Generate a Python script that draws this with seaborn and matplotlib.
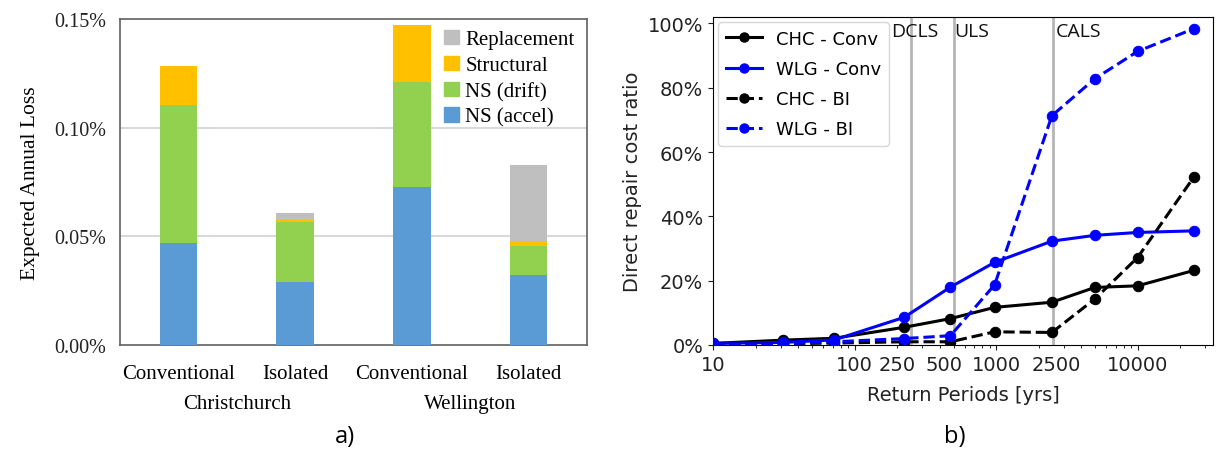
import matplotlib
matplotlib.use("Agg")
import matplotlib.pyplot as plt
import matplotlib.transforms as mtransforms
from matplotlib.ticker import FuncFormatter, FixedLocator, LogLocator, NullFormatter
from matplotlib.lines import Line2D
import numpy as np
import pandas as pd
import seaborn as sns

# ---------------- data: panel a ----------------
bar_keys = ["CHC-Conv", "CHC-Iso", "WLG-Conv", "WLG-Iso"]
bar_labels = ["Conventional", "Isolated", "Conventional", "Isolated"]
cities = ["Christchurch", "Wellington"]
ns_accel = [0.0468, 0.0288, 0.0729, 0.0323]
ns_drift = [0.0634, 0.0279, 0.0483, 0.0131]
structural = [0.0180, 0.0009, 0.0259, 0.0025]
replacement = [0.0, 0.0031, 0.0, 0.0350]
comp_names = ["NS (accel)", "NS (drift)", "Structural", "Replacement"]
comp_colors = ["#5B9BD5", "#92D050", "#FFC000", "#BFBFBF"]
ytick_a = [0.0, 0.05, 0.10, 0.15]

# ---------------- data: panel b ----------------
return_periods = [10, 31, 72, 224, 475, 975, 2475, 4975, 9975, 24975]
chc_conv = [0.5, 1.5, 2.1, 5.5, 8.2, 11.7, 13.3, 17.9, 18.4, 23.2]
wlg_conv = [0.5, 0.8, 1.6, 8.6, 18.0, 25.7, 32.3, 34.1, 35.0, 35.5]
chc_bi = [0.3, 0.4, 0.6, 1.0, 1.0, 4.1, 3.9, 14.3, 27.2, 52.3]
wlg_bi = [0.3, 0.4, 1.0, 2.0, 2.9, 18.7, 71.3, 82.8, 91.3, 98.4]
series_names = ["CHC - Conv", "WLG - Conv", "CHC - BI", "WLG - BI"]
limit_states = ["DCLS", "ULS", "CALS"]
limit_periods = [250, 500, 2500]
major_xticks = [10, 100, 1000, 10000]
extra_xlabels = ["250", "500", "2500"]
extra_xlabel_pos = [200, 430, 2650]
ytick_b = [0, 20, 40, 60, 80, 100]

W, H = 1216, 452
fig = plt.figure(figsize=(W / 100, H / 100), dpi=100)

# ================= panel a =================
serif = ["Liberation Serif", "DejaVu Serif"]
axa = fig.add_axes([120 / W, 1 - 346 / H, 467 / W, 326 / H])
comps = [ns_accel, ns_drift, structural, replacement]
cum = np.cumsum(np.array(comps), axis=0)
for i in range(3, -1, -1):
    df = pd.DataFrame({"key": bar_keys, "val": cum[i]})
    sns.barplot(data=df, x="key", y="val", order=bar_keys, color=comp_colors[i],
                width=0.32, linewidth=0, saturation=1, ax=axa, zorder=3)
axa.set_xlim(-0.5, 3.5)
axa.set_ylim(0, 0.15)
axa.set_yticks(ytick_a)
axa.yaxis.set_major_formatter(FuncFormatter(lambda v, p: f"{v:.2f}%"))
axa.set_xticks(range(4))
axa.set_xticklabels(bar_labels, fontfamily=serif, fontsize=15)
for lab in axa.get_yticklabels():
    lab.set_fontfamily(serif)
    lab.set_fontsize(14.5)
    lab.set_color("#222222")
axa.tick_params(axis="both", length=0)
axa.tick_params(axis="x", pad=14)
axa.tick_params(axis="y", pad=10)
axa.set_xlabel("")
axa.set_ylabel("Expected Annual Loss", fontfamily=serif, fontsize=15.5, labelpad=10)
for y in [0.05, 0.10]:
    axa.axhline(y, color="#D9D9D9", lw=1.5, zorder=1)
for s in axa.spines.values():
    s.set_color("#606060")
    s.set_linewidth(1.2)
trans = mtransforms.blended_transform_factory(axa.transData, axa.transAxes)
for j, c in enumerate(cities):
    axa.text(2 * j + 0.5, -0.18, c, transform=trans, ha="center", va="center",
             fontfamily=serif, fontsize=15)
handles = [plt.Rectangle((0, 0), 1, 1, color=comp_colors[i]) for i in range(3, -1, -1)]
axa.legend(handles, comp_names[::-1], loc="upper right", frameon=False,
           prop={"family": serif, "size": 15}, handlelength=0.7, handleheight=0.7,
           handletextpad=0.3, labelspacing=0.3, borderaxespad=0.2,
           bbox_to_anchor=(1.0, 1.005))

# ================= panel b =================
axb = fig.add_axes([713 / W, 1 - 346 / H, 500 / W, 328 / H])
lines = [chc_conv, wlg_conv, chc_bi, wlg_bi]
cols = ["black", "blue", "black", "blue"]
styles = ["-", "-", "--", "--"]
for name, vals, c, ls in zip(series_names, lines, cols, styles):
    sns.lineplot(x=return_periods, y=vals, ax=axb, color=c, linestyle=ls, lw=2.2,
                 marker="o", markersize=7.5, markeredgecolor=c, label=name, zorder=3)
axb.set_xscale("log")
axb.set_xlim(10, 34000)
axb.set_ylim(0, 102)
for lp in limit_periods:
    axb.axvline(lp, color="#b5b5b5", lw=2, zorder=1)
txt_x = [182, 505, 2650]
for name, tx in zip(limit_states, txt_x):
    axb.text(tx, 97.5, name, ha="left", va="center", fontsize=14, fontfamily="Open Sans",
             color="#111111")
axb.xaxis.set_major_locator(FixedLocator(major_xticks))
axb.set_xticklabels([str(v) for v in major_xticks])
axb.xaxis.set_minor_locator(LogLocator(base=10, subs=np.arange(2, 10)))
axb.xaxis.set_minor_formatter(NullFormatter())
axb.set_yticks(ytick_b)
axb.yaxis.set_major_formatter(FuncFormatter(lambda v, p: f"{v:.0f}%"))
axb.tick_params(axis="both", labelsize=14, colors="#222222")
transb = mtransforms.blended_transform_factory(axb.transData, axb.transAxes)
offset = mtransforms.ScaledTranslation(0, -7.0 / 72, fig.dpi_scale_trans)
for lab, px in zip(extra_xlabels, extra_xlabel_pos):
    axb.text(px, 0.0, lab, transform=transb + offset, ha="center", va="top",
             fontsize=14, color="#222222")
axb.set_xlabel("Return Periods [yrs]", fontsize=14, color="#222222", labelpad=8)
axb.set_ylabel("Direct repair cost ratio", fontsize=14, color="#222222")
leg_handles = [Line2D([0], [0], color=c, ls=ls, lw=2.2, marker="o", markersize=6.5)
               for c, ls in zip(cols, styles)]
axb.legend(leg_handles, series_names, loc="upper left", fontsize=13,
           handlelength=2.0, borderaxespad=0.3, labelspacing=0.68)

fig.text(345 / W, 1 - 437 / H, "a)", ha="center", va="center", fontsize=17,
         fontfamily="Open Sans")
fig.text(955 / W, 1 - 437 / H, "b)", ha="center", va="center", fontsize=17,
         fontfamily="Open Sans")

fig.savefig("out.png", dpi=100)
